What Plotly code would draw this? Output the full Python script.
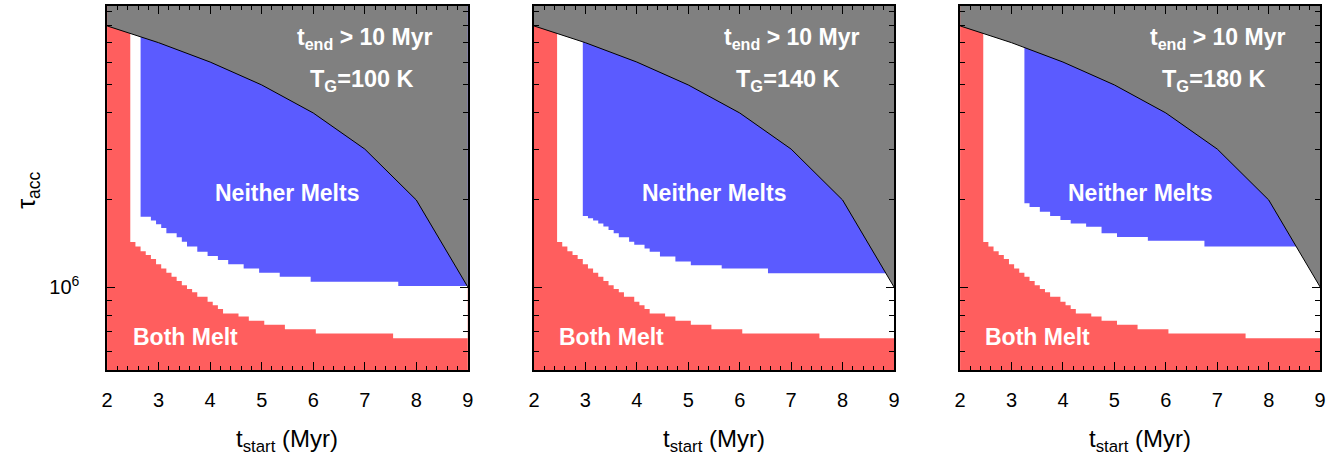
import plotly.graph_objects as go

# ---------------- data ----------------
X_RANGE = [2, 9]
Y_LOG_RANGE = [5.713, 6.972]
x_ticks = [2, 3, 4, 5, 6, 7, 8, 9]
y_major = [1e6]
y_major_text = ["10<sup>6</sup>"]
y_minor = [5e5, 6e5, 7e5, 8e5, 9e5, 2e6, 3e6, 4e6, 5e6, 6e6, 7e6, 8e6, 9e6]

# boundary of the t_end > 10 Myr region
t_bound = [2, 3, 4, 5, 6, 7, 8, 9]
tau_bound = [8e6, 7e6, 6e6, 5e6, 4e6, 3e6, 2e6, 1e6]

# "Both Melt" upper boundary (step function: level starts at t)
red_t = [2.45, 2.55, 2.65, 2.75, 2.85, 2.95, 3.05, 3.15, 3.25, 3.35, 3.45, 3.55,
         3.65, 3.75, 3.95, 4.05, 4.15, 4.25, 4.55, 4.75, 5.05, 5.45, 6.05, 7.55]
red_tau = [1.43e6, 1.38e6, 1.33e6, 1.29e6, 1.25e6, 1.20e6, 1.16e6, 1.12e6, 1.085e6,
           1.05e6, 1.015e6, 0.985e6, 0.96e6, 0.925e6, 0.89e6, 0.865e6, 0.84e6,
           0.81e6, 0.79e6, 0.765e6, 0.74e6, 0.715e6, 0.69e6, 0.665e6]

# "Neither Melts" lower boundary per T_G
blue_t_100 = [2.65, 2.85, 2.95, 3.05, 3.15, 3.35, 3.45, 3.55, 3.75, 3.95, 4.15,
              4.35, 4.65, 4.95, 5.35, 5.95, 7.65]
blue_tau_100 = [1.75e6, 1.70e6, 1.65e6, 1.60e6, 1.535e6, 1.485e6, 1.435e6, 1.38e6,
                1.325e6, 1.28e6, 1.24e6, 1.20e6, 1.16e6, 1.12e6, 1.085e6, 1.043e6,
                1.008e6]
blue_t_140 = [2.95, 3.05, 3.15, 3.25, 3.35, 3.45, 3.55, 3.65, 3.85, 3.95, 4.15,
              4.25, 4.45, 4.75, 5.05, 5.65, 6.55]
blue_tau_140 = [1.76e6, 1.73e6, 1.70e6, 1.66e6, 1.62e6, 1.575e6, 1.535e6, 1.485e6,
                1.435e6, 1.40e6, 1.36e6, 1.325e6, 1.275e6, 1.225e6, 1.19e6, 1.16e6,
                1.115e6]
blue_t_180 = [3.25, 3.35, 3.55, 3.75, 3.95, 4.15, 4.45, 4.75, 5.05, 5.65, 6.75]
blue_tau_180 = [1.95e6, 1.89e6, 1.82e6, 1.76e6, 1.705e6, 1.66e6, 1.615e6, 1.535e6,
                1.49e6, 1.445e6, 1.38e6]

tg_labels = ["100 K", "140 K", "180 K"]
blue_sets = [(blue_t_100, blue_tau_100), (blue_t_140, blue_tau_140), (blue_t_180, blue_tau_180)]

# ---------------- style ----------------
RED = "#FF5E5E"
BLUE = "#5B5BFF"
GRAY = "#808080"
FONT = "Liberation Sans, Arial, Helvetica, sans-serif"
W, H = 1344, 460
panel_px = [(102, 466), (532.7, 896), (962.7, 1326)]
top_px, bot_px = 6, 370
y_dom = [1 - bot_px / H, 1 - top_px / H]
TOP = 10 ** Y_LOG_RANGE[1] * 2


def step_polygon(ts, taus, x_end, top):
    xs, ys = [ts[0]], [top]
    for i, (t, v) in enumerate(zip(ts, taus)):
        t_next = ts[i + 1] if i + 1 < len(ts) else x_end
        xs += [t, t_next]
        ys += [v, v]
    xs += [x_end, ts[0]]
    ys += [top, top]
    return xs, ys


fig = go.Figure()
for k in range(3):
    sfx = "" if k == 0 else str(k + 1)
    xa, ya = "x" + sfx, "y" + sfx
    # white region (above "Both Melt")
    wx, wy = step_polygon(red_t, red_tau, X_RANGE[1], TOP)
    fig.add_trace(go.Scatter(x=wx, y=wy, xaxis=xa, yaxis=ya, mode="lines", fill="toself",
                             fillcolor="white", line=dict(width=0), hoverinfo="skip",
                             showlegend=False))
    bt, btau = blue_sets[k]
    bx, by = step_polygon(bt, btau, X_RANGE[1], TOP)
    fig.add_trace(go.Scatter(x=bx, y=by, xaxis=xa, yaxis=ya, mode="lines", fill="toself",
                             fillcolor=BLUE, line=dict(width=0), hoverinfo="skip",
                             showlegend=False))
    gx = t_bound + [X_RANGE[1], X_RANGE[0]]
    gy = tau_bound + [TOP, TOP]
    fig.add_trace(go.Scatter(x=gx, y=gy, xaxis=xa, yaxis=ya, mode="lines", fill="toself",
                             fillcolor=GRAY, line=dict(width=0), hoverinfo="skip",
                             showlegend=False))
    fig.add_trace(go.Scatter(x=t_bound, y=tau_bound, xaxis=xa, yaxis=ya, mode="lines",
                             line=dict(color="black", width=1), hoverinfo="skip",
                             showlegend=False))

    x0, x1 = panel_px[k]
    fig.update_layout(**{
        "xaxis" + sfx: dict(
            domain=[x0 / W, x1 / W], range=X_RANGE, anchor=ya, tickvals=x_ticks,
            ticks="inside", ticklen=8, tickwidth=1.2, tickcolor="black",
            minor=dict(ticks="inside", ticklen=4, dtick=0.2, tickcolor="black", tickwidth=1),
            showline=True, linecolor="black", linewidth=1.5, mirror="ticks",
            showgrid=False, zeroline=False, ticklabelstandoff=11,
            tickfont=dict(family=FONT, size=20, color="black")),
        "yaxis" + sfx: dict(
            domain=y_dom, type="log", range=Y_LOG_RANGE, anchor=xa,
            tickvals=y_major, ticktext=y_major_text, showticklabels=(k == 0),
            ticks="inside", ticklen=8, tickwidth=1.2, tickcolor="black",
            minor=dict(ticks="inside", ticklen=5, tickvals=y_minor, tickcolor="black", tickwidth=1),
            showline=True, linecolor="black", linewidth=1.5, mirror="ticks",
            showgrid=False, zeroline=False, ticklabelstandoff=22,
            tickfont=dict(family=FONT, size=20, color="black")),
    })

    def ann(text, fx, fy, size, color="white"):
        fig.add_annotation(text=text, x=fx, y=fy, xref=xa + " domain", yref=ya + " domain",
                           showarrow=False, xanchor="center", yanchor="middle",
                           font=dict(family=FONT, size=size, color=color))

    ann("<b>t<sub>end</sub> > 10 Myr</b>", 0.714, 0.912, 23)
    ann("<b>T<sub>G</sub>=" + tg_labels[k] + "</b>", 0.706, 0.795, 23.5)
    ann("<b>Neither Melts</b>", 0.500, 0.486, 23)
    ann("<b>Both Melt</b>", 0.216, 0.091, 23)

    # x-axis title
    fig.add_annotation(text="t<sub>start</sub> (Myr)", x=((x0 + x1) / 2) / W, y=1 - 440 / H,
                       xref="paper", yref="paper", showarrow=False, xanchor="center",
                       yanchor="middle", font=dict(family=FONT, size=24, color="black"))

fig.add_annotation(text="τ<sub>acc</sub>", x=22 / W, y=1 - 190 / H, xref="paper", yref="paper",
                   showarrow=False, textangle=-90, xanchor="center", yanchor="middle",
                   font=dict(family=FONT, size=25, color="black"))

fig.update_layout(width=W, height=H, margin=dict(l=0, r=0, t=0, b=0),
                  plot_bgcolor=RED, paper_bgcolor="white", showlegend=False)

fig.write_html("out.html", config={"displayModeBar": False},
               post_script="document.body.style.margin='0';")
